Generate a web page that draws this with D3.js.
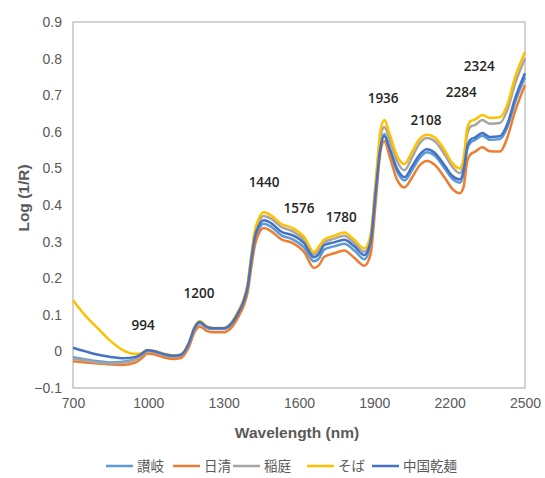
<!DOCTYPE html>
<html>
<head>
<meta charset="utf-8">
<script src="https://cdn.jsdelivr.net/npm/d3@7"></script>
<style>
  body { margin: 0; background: white; }
  .tick-label { font-family: "Liberation Sans", Arial, sans-serif; font-size: 14px; fill: #595959; }
  .peak { font-family: "Open Sans", "Liberation Sans", sans-serif; font-size: 13.5px; font-weight: 600; fill: #262626; }
</style>
</head>
<body>
<div class="svg-wrap"></div>
<script>
// wavelength grid (nm)
let wavelengths = [700, 750, 800, 850, 900, 950, 975, 995, 1020, 1060, 1100, 1130, 1160, 1185, 1205, 1230, 1260, 1300, 1330, 1360,
  1380, 1395, 1410, 1425, 1440, 1460, 1490, 1530, 1575, 1620, 1660, 1680, 1700, 1740, 1780, 1820, 1860, 1885, 1905, 1925,
  1940, 1960, 1990, 2020, 2050, 2080, 2110, 2140, 2180, 2210, 2240, 2255, 2270, 2285, 2300, 2330, 2360, 2400, 2430, 2460, 2500];

let sanuki = [-0.016, -0.022, -0.027, -0.030, -0.028, -0.020, -0.009, 0.001, -0.001, -0.009, -0.014, -0.011, 0.017, 0.062, 0.077, 0.066, 0.061, 0.061, 0.073, 0.104,
  0.134, 0.170, 0.243, 0.305, 0.334, 0.349, 0.340, 0.317, 0.306, 0.284, 0.246, 0.254, 0.278, 0.287, 0.294, 0.276, 0.252, 0.290, 0.425, 0.565,
  0.594, 0.555, 0.492, 0.467, 0.495, 0.528, 0.544, 0.535, 0.500, 0.472, 0.461, 0.482, 0.552, 0.572, 0.577, 0.589, 0.578, 0.580, 0.613, 0.680, 0.749];

let nissin = [-0.027, -0.030, -0.033, -0.036, -0.037, -0.030, -0.018, -0.006, -0.008, -0.016, -0.021, -0.018, 0.010, 0.054, 0.068, 0.057, 0.052, 0.052, 0.064, 0.096,
  0.125, 0.160, 0.230, 0.292, 0.322, 0.337, 0.328, 0.306, 0.296, 0.272, 0.228, 0.236, 0.258, 0.268, 0.276, 0.256, 0.234, 0.265, 0.405, 0.548,
  0.575, 0.535, 0.470, 0.448, 0.475, 0.508, 0.520, 0.510, 0.475, 0.445, 0.432, 0.448, 0.520, 0.540, 0.545, 0.558, 0.547, 0.546, 0.585, 0.655, 0.728];

let inaniwa = [-0.020, -0.025, -0.030, -0.033, -0.031, -0.022, -0.010, 0.001, -0.001, -0.009, -0.014, -0.011, 0.018, 0.064, 0.080, 0.068, 0.063, 0.063, 0.076, 0.110,
  0.141, 0.180, 0.258, 0.325, 0.355, 0.370, 0.362, 0.340, 0.328, 0.305, 0.265, 0.276, 0.298, 0.308, 0.316, 0.296, 0.272, 0.310, 0.450, 0.590,
  0.613, 0.580, 0.520, 0.495, 0.530, 0.568, 0.583, 0.575, 0.538, 0.505, 0.487, 0.510, 0.595, 0.615, 0.618, 0.632, 0.622, 0.624, 0.660, 0.730, 0.800];

let soba = [0.140, 0.097, 0.062, 0.028, 0.003, -0.007, -0.004, 0.004, 0.002, -0.006, -0.011, -0.008, 0.022, 0.068, 0.083, 0.070, 0.064, 0.064, 0.078, 0.112,
  0.143, 0.183, 0.262, 0.332, 0.363, 0.380, 0.371, 0.348, 0.337, 0.313, 0.271, 0.287, 0.305, 0.316, 0.325, 0.305, 0.281, 0.318, 0.460, 0.605,
  0.632, 0.596, 0.535, 0.512, 0.545, 0.580, 0.592, 0.585, 0.550, 0.515, 0.500, 0.525, 0.610, 0.630, 0.633, 0.646, 0.638, 0.640, 0.675, 0.748, 0.818];

let chugoku = [0.010, 0.000, -0.009, -0.015, -0.019, -0.015, -0.006, 0.003, 0.001, -0.007, -0.012, -0.009, 0.020, 0.066, 0.080, 0.068, 0.063, 0.063, 0.076, 0.108,
  0.138, 0.175, 0.250, 0.315, 0.343, 0.358, 0.350, 0.327, 0.317, 0.296, 0.257, 0.267, 0.290, 0.298, 0.305, 0.287, 0.263, 0.300, 0.435, 0.560,
  0.588, 0.556, 0.500, 0.476, 0.505, 0.537, 0.552, 0.543, 0.508, 0.480, 0.470, 0.492, 0.560, 0.580, 0.584, 0.597, 0.586, 0.588, 0.622, 0.690, 0.760];

let seriesNames = ["讃岐", "日清", "稲庭", "そば", "中国乾麺"];
let colors = ["#5B9BD5", "#ED7D31", "#A5A5A5", "#FFC000", "#4472C4"];
let seriesValues = [sanuki, nissin, inaniwa, soba, chugoku];

let xTicks = [700, 1000, 1300, 1600, 1900, 2200, 2500];
let yTicks = [-0.1, 0, 0.1, 0.2, 0.3, 0.4, 0.5, 0.6, 0.7, 0.8, 0.9];

// peak labels: text, wavelength position, value position
let peakLabels = ["994", "1200", "1440", "1576", "1780", "1936", "2108", "2284", "2324"];
let peakX = [979, 1202, 1461, 1600, 1768, 1935, 2106, 2246, 2318];
let peakY = [0.071, 0.158, 0.462, 0.391, 0.366, 0.691, 0.631, 0.708, 0.779];

var margin = { top: 22, right: 20, bottom: 90, left: 73 },
  width = 545 - margin.left - margin.right,
  height = 478 - margin.top - margin.bottom;

let svg = d3.select(".svg-wrap")
  .append("svg")
  .attr("width", 545)
  .attr("height", 478)
  .style("background-color", "white");

let g = svg.append("g")
  .attr("transform", "translate(" + margin.left + "," + margin.top + ")");

var scaleX = d3.scaleLinear().domain([700, 2500]).range([0, 452]);
var scaleY = d3.scaleLinear().domain([-0.1, 0.9]).range([366, 0]);

// plot frame
g.append("rect")
  .attr("x", 0)
  .attr("y", 0)
  .attr("width", scaleX(2500))
  .attr("height", scaleY(-0.1))
  .attr("fill", "none")
  .attr("stroke", "#a6a6a6")
  .attr("stroke-width", 1);

let xAxis = d3.axisBottom(scaleX).tickValues(xTicks).tickSize(0).tickPadding(10).tickFormat(d3.format("d"));
g.append("g")
  .attr("transform", `translate(0,${scaleY(-0.1)})`)
  .call(xAxis)
  .call(a => a.select(".domain").remove())
  .selectAll("text")
  .attr("class", "tick-label")
  .attr("font-family", null)
  .attr("font-size", null);

let yAxis = d3.axisLeft(scaleY).tickValues(yTicks).tickSize(0).tickPadding(11)
  .tickFormat(d => d === 0 ? "0" : d3.format(".1f")(d));
g.append("g")
  .call(yAxis)
  .call(a => a.select(".domain").remove())
  .selectAll("text")
  .attr("class", "tick-label")
  .attr("font-family", null)
  .attr("font-size", null);

let line = d3.line()
  .x((d, i) => scaleX(wavelengths[i]))
  .y(d => scaleY(d))
  .curve(d3.curveMonotoneX);

g.selectAll(".series")
  .data(seriesValues)
  .enter()
  .append("path")
  .attr("class", "series")
  .attr("d", d => line(d))
  .attr("fill", "none")
  .attr("stroke", (d, i) => colors[i])
  .attr("stroke-width", 2.5)
  .attr("stroke-linejoin", "round");

g.selectAll(".peak")
  .data(peakLabels)
  .enter()
  .append("text")
  .attr("class", "peak")
  .attr("x", (d, i) => scaleX(peakX[i]))
  .attr("y", (d, i) => scaleY(peakY[i]))
  .attr("dy", "0.35em")
  .attr("text-anchor", "middle")
  .text(d => d);

// axis titles
svg.append("text")
  .attr("x", 297)
  .attr("y", 438)
  .attr("text-anchor", "middle")
  .style("font-family", "'Liberation Sans', Arial, sans-serif")
  .style("font-size", "15.5px")
  .style("font-weight", "bold")
  .style("fill", "#595959")
  .text("Wavelength (nm)");

svg.append("text")
  .attr("transform", "translate(29,198) rotate(-90)")
  .attr("text-anchor", "middle")
  .style("font-family", "'Liberation Sans', 'Noto Sans CJK JP', sans-serif")
  .style("font-size", "15.5px")
  .style("font-weight", "bold")
  .style("fill", "#595959")
  .text("Log (1/R)");

// legend
let legendX = [106, 173, 233, 307, 372];
let legend = svg.append("g").attr("id", "legend")
  .selectAll(".legend-item")
  .data(seriesNames)
  .enter()
  .append("g")
  .attr("class", "legend-item")
  .attr("transform", (d, i) => "translate(" + legendX[i] + ",466)");

legend.append("line")
  .attr("x1", 0)
  .attr("x2", 27)
  .attr("y1", 0)
  .attr("y2", 0)
  .attr("stroke", (d, i) => colors[i])
  .attr("stroke-width", 2.5);

legend.append("text")
  .attr("x", 31)
  .attr("y", 0)
  .attr("dy", "0.35em")
  .style("font-family", "'Noto Sans CJK JP', sans-serif")
  .style("font-size", "13.5px")
  .style("fill", "#595959")
  .text(d => d);
</script>
</body>
</html>
